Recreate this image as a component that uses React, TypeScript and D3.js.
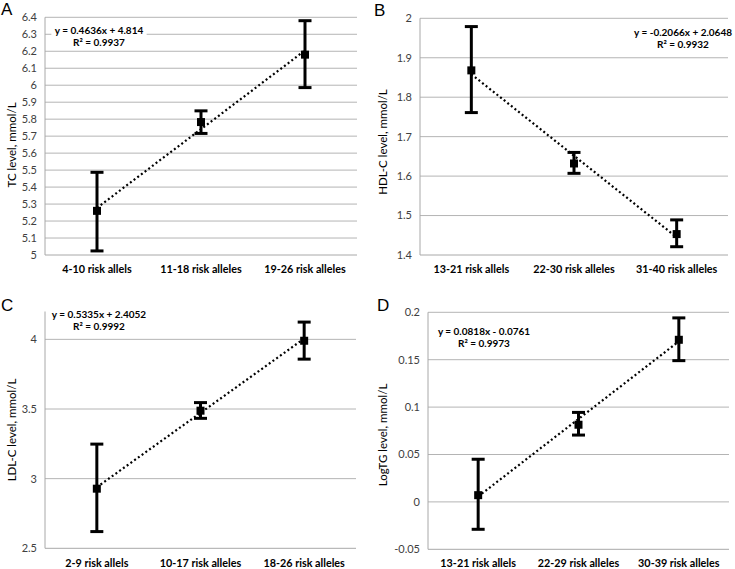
import React from "react";
import * as d3 from "d3";

// ---------- Data ----------
const categoriesA = ["4-10 risk allels", "11-18 risk alleles", "19-26 risk alleles"];
const meansA = [5.26, 5.783, 6.18];
const lowerA = [5.024, 5.716, 5.986];
const upperA = [5.487, 5.849, 6.38];
const trendA = [0.4636, 4.814];
const equationA = ["y = 0.4636x + 4.814", "R² = 0.9937"];
const ticksA = [5, 5.1, 5.2, 5.3, 5.4, 5.5, 5.6, 5.7, 5.8, 5.9, 6, 6.1, 6.2, 6.3, 6.4];
const titleA = "TC level, mmol/L";

const categoriesB = ["13-21 risk allels", "22-30 risk alleles", "31-40 risk alleles"];
const meansB = [1.868, 1.632, 1.453];
const lowerB = [1.761, 1.607, 1.421];
const upperB = [1.979, 1.66, 1.489];
const trendB = [-0.2066, 2.0648];
const equationB = ["y = -0.2066x + 2.0648", "R² = 0.9932"];
const ticksB = [1.4, 1.5, 1.6, 1.7, 1.8, 1.9, 2];
const titleB = "HDL-C level, mmol/L";

const categoriesC = ["2-9 risk allels", "10-17 risk alleles", "18-26 risk alleles"];
const meansC = [2.928, 3.488, 3.99];
const lowerC = [2.62, 3.433, 3.858];
const upperC = [3.248, 3.546, 4.124];
const trendC = [0.5335, 2.4052];
const equationC = ["y = 0.5335x + 2.4052", "R² = 0.9992"];
const ticksC = [2.5, 3, 3.5, 4];
const titleC = "LDL-C level, mmol/L";

const categoriesD = ["13-21 risk allels", "22-29 risk alleles", "30-39 risk alleles"];
const meansD = [0.0071, 0.0814, 0.171];
const lowerD = [-0.0289, 0.0705, 0.149];
const upperD = [0.045, 0.0944, 0.1941];
const trendD = [0.0818, -0.0761];
const equationD = ["y = 0.0818x - 0.0761", "R² = 0.9973"];
const ticksD = [-0.05, 0, 0.05, 0.1, 0.15, 0.2];
const titleD = "LogTG level, mmol/L";

// ---------- Layout ----------
const FONT = "Lato, 'Open Sans', sans-serif";

const panels = [
  {
    letter: "A", lx: 1, ly: 15, left: 45, right: 357, top: 17.3, bottom: 255, domain: [5, 6.4],
    titleX: 12, titleY: 145, eqX: 99, eqY: 30, catY: 269, eqBox: true,
    categories: categoriesA, means: meansA, lower: lowerA, upper: upperA, trend: trendA,
    equation: equationA, ticks: ticksA, title: titleA,
  },
  {
    letter: "B", lx: 374, ly: 16, left: 420, right: 728, top: 18.3, bottom: 255, domain: [1.4, 2],
    titleX: 383, titleY: 142, eqX: 683, eqY: 32, catY: 269, eqBox: true,
    categories: categoriesB, means: meansB, lower: lowerB, upper: upperB, trend: trendB,
    equation: equationB, ticks: ticksB, title: titleB,
  },
  {
    letter: "C", lx: 1, ly: 311, left: 45, right: 356, top: 311.5, bottom: 548.3, domain: [2.5, 4.2],
    titleX: 12, titleY: 430, eqX: 99, eqY: 314, catY: 563, eqBox: true,
    categories: categoriesC, means: meansC, lower: lowerC, upper: upperC, trend: trendC,
    equation: equationC, ticks: ticksC, title: titleC,
  },
  {
    letter: "D", lx: 377, ly: 311, left: 428, right: 729, top: 312.3, bottom: 549.3, domain: [-0.05, 0.2],
    titleX: 383, titleY: 435, eqX: 484, eqY: 331, catY: 563, eqBox: true,
    categories: categoriesD, means: meansD, lower: lowerD, upper: upperD, trend: trendD,
    equation: equationD, ticks: ticksD, title: titleD,
  },
];

const fmt = (v: number) => String(+v.toFixed(2));

function Panel({ p }: { p: any }) {
  const x = d3.scaleBand<string>().domain(p.categories).range([p.left, p.right]);
  const y = d3.scaleLinear().domain(p.domain).range([p.bottom, p.top]);
  const cx = (c: string) => (x(c) as number) + x.bandwidth() / 2;
  const n = p.categories.length;
  const trendLine = d3
    .line<number>()
    .x((i) => cx(p.categories[i]))
    .y((i) => y(p.trend[0] * (i + 1) + p.trend[1]));
  const capW = 13;
  const mk = 8;
  const eqW = p.equation[0].length * 4.7 + 6;
  return (
    <g>
      <text x={p.lx} y={p.ly} fontFamily="Liberation Sans, Arial, sans-serif" fontSize={17} fill="#000">
        {p.letter}
      </text>
      {/* gridlines */}
      {p.ticks.map((t: number, i: number) =>
        i === 0 ? null : (
          <line key={"g" + i} x1={p.left} x2={p.right} y1={y(t)} y2={y(t)} stroke="#b4b4b4" strokeWidth={1} />
        )
      )}
      {/* axes */}
      <line x1={p.left} x2={p.left} y1={p.top} y2={p.bottom} stroke="#a8a8a8" strokeWidth={1} />
      <line x1={p.left} x2={p.right} y1={p.bottom} y2={p.bottom} stroke="#a8a8a8" strokeWidth={1} />
      {/* tick labels */}
      {p.ticks.map((t: number, i: number) => (
        <text
          key={"t" + i}
          x={p.left - 8}
          y={y(t)}
          dy="0.35em"
          textAnchor="end"
          fontFamily={FONT}
          fontSize={11}
          fill="#404040"
        >
          {fmt(t)}
        </text>
      ))}
      {/* axis title */}
      <text
        transform={`translate(${p.titleX},${p.titleY}) rotate(-90)`}
        textAnchor="middle"
        dy="0.35em"
        fontFamily={FONT}
        fontSize={11.5}
        fill="#000"
      >
        {p.title}
      </text>
      {/* category labels */}
      {p.categories.map((c: string) => (
        <text
          key={c}
          x={cx(c)}
          y={p.catY}
          dy="0.35em"
          textAnchor="middle"
          fontFamily={FONT}
          fontWeight="bold"
          fontSize={10.8}
          fill="#000"
        >
          {c}
        </text>
      ))}
      {/* trend line */}
      <path
        d={trendLine(d3.range(n)) as string}
        fill="none"
        stroke="#000"
        strokeWidth={2.2}
        strokeDasharray="2,2.6"
      />
      {/* error bars & markers */}
      {p.categories.map((c: string, i: number) => {
        const xc = cx(c);
        return (
          <g key={"e" + i}>
            <line x1={xc} x2={xc} y1={y(p.lower[i])} y2={y(p.upper[i])} stroke="#000" strokeWidth={3} />
            <line x1={xc - capW / 2} x2={xc + capW / 2} y1={y(p.lower[i])} y2={y(p.lower[i])} stroke="#000" strokeWidth={3} />
            <line x1={xc - capW / 2} x2={xc + capW / 2} y1={y(p.upper[i])} y2={y(p.upper[i])} stroke="#000" strokeWidth={3} />
            <rect x={xc - mk / 2} y={y(p.means[i]) - mk / 2} width={mk} height={mk} fill="#000" />
          </g>
        );
      })}
      {/* equation */}
      {p.eqBox && <rect x={p.eqX - eqW / 2} y={p.eqY - 7} width={eqW} height={24} fill="#fff" />}
      {p.equation.map((s: string, i: number) => (
        <text
          key={"q" + i}
          x={p.eqX}
          y={p.eqY + i * 12}
          dy="0.35em"
          textAnchor="middle"
          fontFamily={FONT}
          fontWeight="bold"
          fontSize={10}
          fill="#000"
        >
          {s}
        </text>
      ))}
    </g>
  );
}

export default function App() {
  return (
    <svg
      width={735}
      height={569}
      style={{ position: "absolute", left: 0, top: 0, background: "#fff" }}
    >
      <rect x={0} y={0} width={735} height={569} fill="#fff" />
      {panels.map((p) => (
        <Panel key={p.letter} p={p} />
      ))}
    </svg>
  );
}
